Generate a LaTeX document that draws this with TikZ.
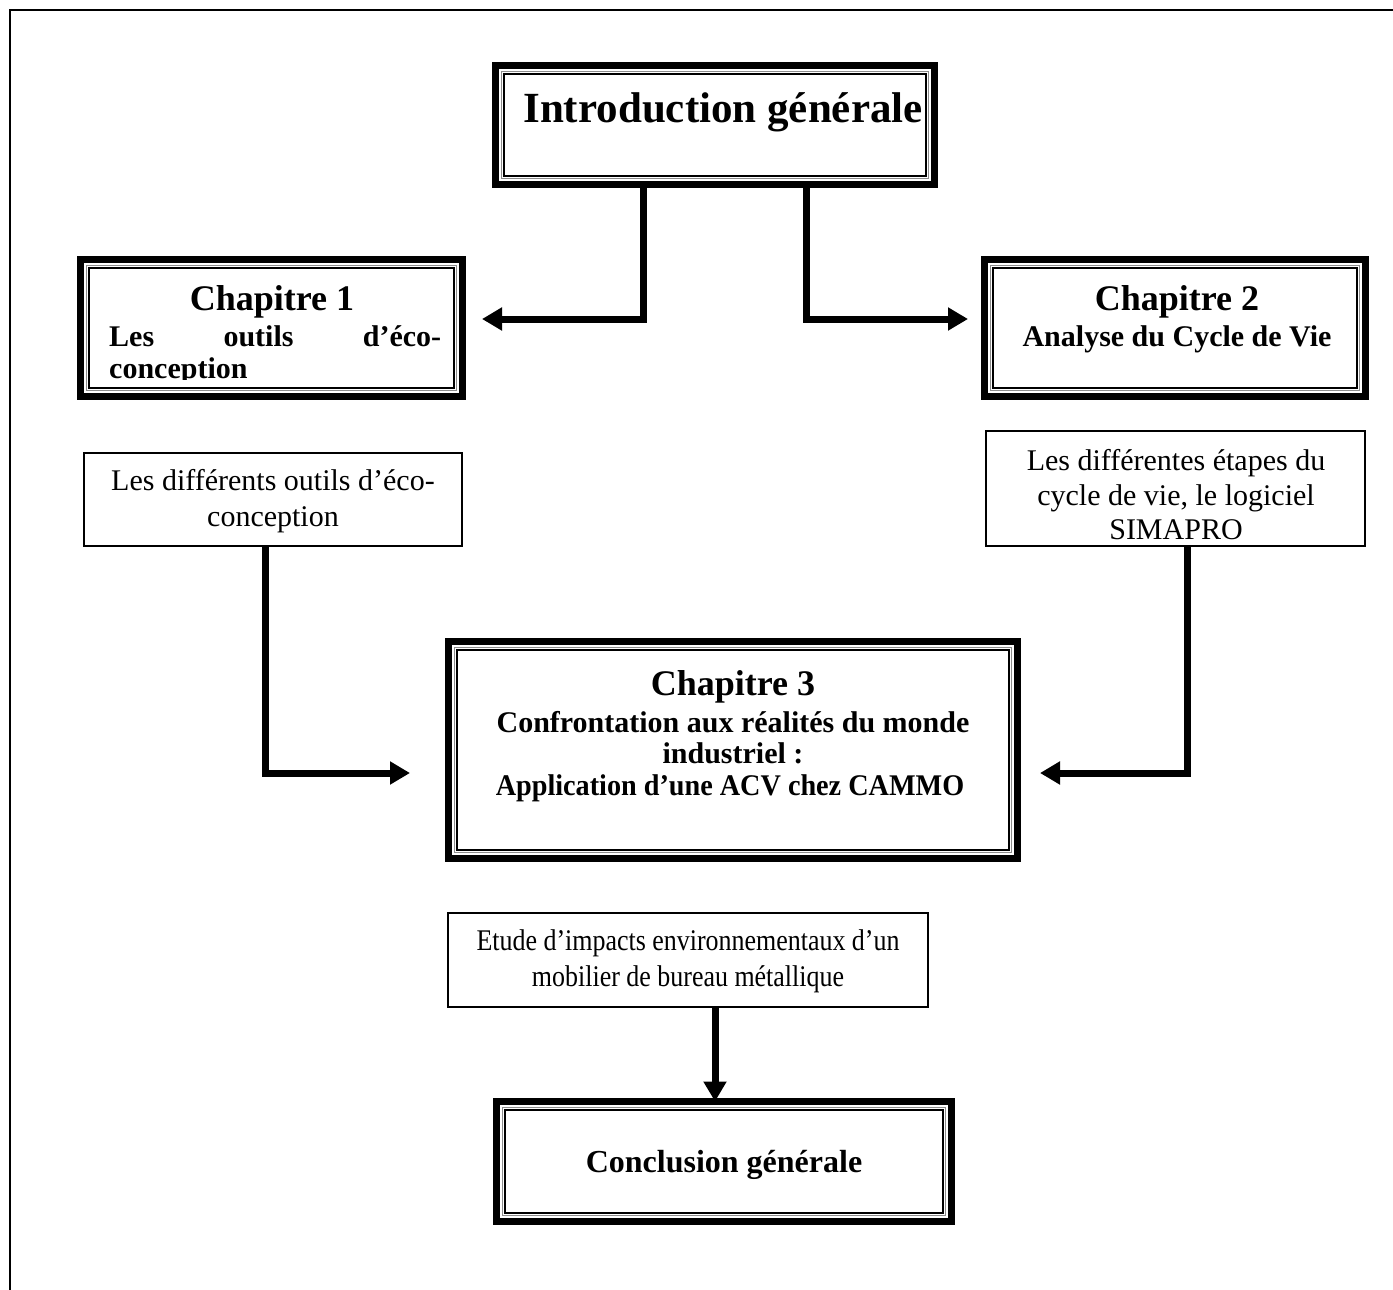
\documentclass[tikz,border=0pt]{standalone}
\usepackage{graphicx}
\usepackage{fontspec}
\setmainfont{Liberation Serif}
\usetikzlibrary{arrows.meta,calc}

% thin grey and black rules drawn inside a thick-framed box
\newcommand\innerrules[1]{%
  \draw[black!45, line width=1pt]
    ($(#1.north west)+(5.9,5.9)$) rectangle ($(#1.south east)+(-5.9,-5.9)$);
  \draw[line width=2pt]
    ($(#1.north west)+(8.4,8.4)$) rectangle ($(#1.south east)+(-8.4,-8.4)$);
}

\begin{document}
\begin{tikzpicture}[x=1pt, y=-1pt,
  framebox/.style={draw, line width=7pt, rectangle, inner sep=0pt, outer sep=0pt, fill=white},
  notebox/.style={draw, line width=1.8pt, rectangle, inner sep=0pt, outer sep=0pt},
  link/.style={line width=7pt, -{Triangle[length=20pt, width=22pt]}},
  bigtitle/.style={inner sep=0pt, font=\fontsize{43}{50}\selectfont\bfseries},
  chaptitle/.style={inner sep=0pt, font=\fontsize{36}{40}\selectfont\bfseries},
  subtitle/.style={inner sep=0pt, font=\fontsize{30}{32}\selectfont\bfseries},
  note/.style={inner sep=0pt, font=\fontsize{30}{35}\selectfont},
]
\useasboundingbox (0,0) rectangle (1393,1290);
\fill[white] (0,0) rectangle (1393,1290);

% page frame (only its top and left sides fall on the sheet)
\draw[line width=2pt] (10,1291) -- (10,10) -- (1394,10);

% ---- boxes ----
\node[framebox, minimum width=439pt, minimum height=119pt] (intro) at (715,125) {};
\node[framebox, minimum width=382pt, minimum height=137pt] (ch1) at (271.5,328) {};
\node[framebox, minimum width=381pt, minimum height=137pt] (ch2) at (1175,328) {};
\node[notebox, minimum width=378pt, minimum height=93pt] (ot1) at (273,499.5) {};
\node[notebox, minimum width=379pt, minimum height=115pt] (ot2) at (1175.5,488.5) {};
\node[framebox, minimum width=569pt, minimum height=217pt] (ch3) at (733,750) {};
\node[notebox, minimum width=480pt, minimum height=94pt] (etude) at (688,960) {};
\node[framebox, minimum width=455pt, minimum height=120pt] (concl) at (724,1161.5) {};

\innerrules{intro}
\innerrules{ch1}
\innerrules{ch2}
\innerrules{ch3}
\innerrules{concl}

% ---- texts ----
\node[bigtitle, anchor=base] (introT) at (723,122) {Introduction générale};

\begin{scope}
  % the second subtitle line is cut by the text area of the box
  \clip ($(ch1.north west)+(9.4,9.4)$) rectangle (ch1.east |- 0,379);
  \node[chaptitle, anchor=base] (ch1T) at (272,310) {Chapitre 1};
  \node[subtitle, anchor=base west] (ch1A) at (109,346) {\hbox to 332pt{Les\hfill outils\hfill d’éco-}};
  \node[subtitle, anchor=base west] (ch1B) at (109,378) {conception};
\end{scope}

\node[chaptitle, anchor=base] (ch2T) at (1177,310) {Chapitre 2};
\node[subtitle, anchor=base] (ch2A) at (1177,346) {Analyse du Cycle de Vie};

\node[note, anchor=base] (ot1A) at (273,490) {Les différents outils d’éco-};
\node[note, anchor=base] (ot1B) at (273,526) {conception};

\node[note, anchor=base] (ot2A) at (1176,470) {Les différentes étapes du};
\node[note, anchor=base] (ot2B) at (1176,505) {cycle de vie, le logiciel};
\node[note, anchor=base] (ot2C) at (1176,539) {SIMAPRO};

\node[chaptitle, anchor=base] (ch3T) at (733,695) {Chapitre 3};
\node[subtitle, anchor=base] (ch3A) at (733,732) {Confrontation aux réalités du monde};
\node[subtitle, anchor=base] (ch3B) at (733,763) {industriel :};
\node[subtitle, anchor=base] (ch3C) at (730,795) {\scalebox{0.94}[1]{Application d’une ACV chez CAMMO}};

\node[note, anchor=base] (etA) at (688,950) {\scalebox{0.865}[1]{Etude d’impacts environnementaux d’un}};
\node[note, anchor=base] (etB) at (688,986) {\scalebox{0.865}[1]{mobilier de bureau métallique}};

\node[inner sep=0pt, font=\fontsize{32}{36}\selectfont\bfseries, anchor=base] (conclT) at (724,1172) {Conclusion générale};

% ---- connectors ----
\coordinate (k1) at (643,319);
\coordinate (k2) at (806,319);
\coordinate (k3) at (265,773);
\coordinate (k4) at (1187,773);
\coordinate (k5) at (715,0);

\draw[link, shorten >=19.5pt] (intro.south -| k1) |- (ch1.east |- k1);
\draw[link, shorten >=16.5pt] (intro.south -| k2) |- (ch2.west |- k2);
\draw[link, shorten >=38.5pt] (ot1.south -| k3) |- (ch3.west |- k3);
\draw[link, shorten >=22.5pt] (ot2.south -| k4) |- (ch3.east |- k4);
\draw[link] (etude.south -| k5) -- (concl.north -| k5);
\end{tikzpicture}
\end{document}
